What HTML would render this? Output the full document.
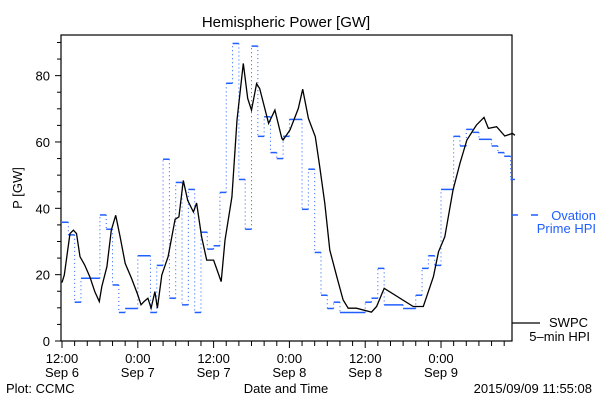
<!DOCTYPE html>
<html><head><meta charset="utf-8"><style>
body{margin:0;background:#fff;width:600px;height:400px;overflow:hidden}
svg text{font-family:"Liberation Sans",sans-serif;font-size:13px}
</style></head><body>
<svg id="chart" width="600" height="400" xmlns="http://www.w3.org/2000/svg">
<text x="286" y="27" text-anchor="middle" font-size="15" style="font-size:15px">Hemispheric Power [GW]</text>
<rect x="61" y="35" width="451" height="306" fill="none" stroke="#000" stroke-width="1.2"/>
<text transform="translate(22,188) rotate(-90)" text-anchor="middle">P [GW]</text>
<text x="286" y="393" text-anchor="middle">Date and Time</text>
<text x="6" y="393">Plot: CCMC</text>
<text x="592" y="393" text-anchor="end">2015/09/09 11:55:08</text>
<g id="axes"></g>
<g id="series"></g>
<g>
<line x1="512" y1="215" x2="518" y2="215" stroke="#1f5fff" stroke-width="1.5"/>
<line x1="531" y1="215" x2="538" y2="215" stroke="#1f5fff" stroke-width="1.5"/>
<text x="596" y="220" text-anchor="end" fill="#1f5fff">Ovation</text>
<text x="596" y="233" text-anchor="end" fill="#1f5fff">Prime HPI</text>
<line x1="512" y1="323" x2="540" y2="323" stroke="#000" stroke-width="1.2"/>
<text x="588" y="327" text-anchor="end">SWPC</text>
<text x="590" y="341" text-anchor="end">5–min HPI</text>
</g>
</svg>
<script>
const yTicks=[0,20,40,60,80];
const xTickHours=[0,12,24,36,48,60];
const xTickTimes=["12:00","0:00","12:00","0:00","12:00","0:00"];
const xTickDates=["Sep 6","Sep 7","Sep 7","Sep 8","Sep 8","Sep 9"];
const ovationStart=[0,1,2,3,6,7,8,9,10,12,14,15,16,17,18,19,20,21,22,23,24,25,26,27,28,29,30,31,32,33,34,35,36,38,39,40,41,42,43,44,48,49,50,51,54,56,57,58,59,60,62,63,64,65,66,68,69,70,71];
const ovationValues=[35.8,32,11.7,18.9,38,33.7,16.9,8.6,9.8,25.7,8.6,22.8,54.8,12.9,47.8,10.9,45.7,8.6,32.8,27.7,28.7,44.8,77.7,89.7,48.7,33.7,88.9,61.7,67.6,56.8,55,61.7,66.8,39.7,51.8,26.7,13.8,9.8,11.7,8.6,11.7,12.9,21.9,10.9,9.8,13.8,21.9,25.7,22.8,45.7,61.7,58.8,63.8,62.9,60.8,58.8,56.8,55.7,48.7];
const ovationEnd=71.7;
const swpcHours=[0,0.37,1.27,1.8,2.3,2.85,3.6,4.4,5.2,5.9,6.3,7.1,7.8,8.5,9.2,10,11,12,12.5,13,13.6,14.1,14.7,15.1,15.8,16.8,17.9,18.5,19.2,19.9,20.8,21.3,22.1,22.9,24,25.2,25.8,26.9,27.7,28.7,29.4,30,30.8,31.3,32.7,33.7,34.8,35,36.1,37.4,38.1,39,40.1,40.8,41.6,42.4,43.5,44.5,45.3,46.6,49,49.8,51,55.6,57.2,58.8,59.6,60.6,61.9,63,64.1,65.6,66.8,67.5,68.8,70.1,71.3,71.7];
const swpcValues=[17.6,19.9,32.4,33.4,32.4,25.4,22.9,19.4,14.9,11.9,16.4,22.4,33.4,37.9,31.4,23.4,18.9,13.9,10.9,11.9,12.9,9.9,14.9,9.9,19.9,25.4,36.7,37.4,48.4,42.4,38.9,41.6,31.4,24.4,24.4,17.9,30.4,43.4,66.6,83.7,73.1,69.6,77.6,76.1,65.6,69.6,61.1,60.6,63.6,70.1,75.9,67.1,61.6,52.6,41.5,27.4,19.4,12.4,9.9,9.9,8.7,10.4,15.9,10.4,10.4,19.4,26.9,31.4,45.5,53.6,60.6,65.1,67.4,64.1,64.6,61.8,62.6,62];
const NS="http://www.w3.org/2000/svg";
function X(h){return 62+h*6.317;}
function Y(v){return 341-v*3.317;}
function mk(tag,at,parent){const e=document.createElementNS(NS,tag);for(const k in at)e.setAttribute(k,at[k]);parent.appendChild(e);return e;}
const axes=document.getElementById('axes');
for(let v=0;v<=90;v+=5){
 const major=v%20===0;
 const t=mk('line',{x1:major?55:57,x2:61,y1:Y(v),y2:Y(v),stroke:'#000'},axes);
 
 
}
yTicks.forEach(v=>{
 const t=mk('text',{x:50,y:Y(v)+5,'text-anchor':'end'},axes);t.textContent=v;
 
 
});
for(let h=0;h<=70;h+=2){
 const major=h%12===0;
 const t=mk('line',{x1:X(h),x2:X(h),y1:341,y2:major?348:346,stroke:'#000'},axes);
 
 
}
xTickHours.forEach((h,i)=>{
 const a=mk('text',{x:X(h),y:363,'text-anchor':'middle'},axes);a.textContent=xTickTimes[i];
 
 
 const b=mk('text',{x:X(h),y:377,'text-anchor':'middle'},axes);b.textContent=xTickDates[i];
 
 
});
const ser=document.getElementById('series');
// Ovation step: solid horizontals, dotted verticals
ovationStart.forEach((h,i)=>{
 const he=i+1<ovationStart.length?ovationStart[i+1]:ovationEnd;
 const l=mk('line',{x1:X(h),x2:X(he),y1:Y(ovationValues[i]),y2:Y(ovationValues[i]),stroke:'#1f5fff','stroke-width':1.5},ser);
 
 
 if(i+1<ovationStart.length){
  const d=mk('line',{x1:X(he),x2:X(he),y1:Y(ovationValues[i]),y2:Y(ovationValues[i+1]),stroke:'#1f5fff','stroke-width':1,'stroke-dasharray':'1,3'},ser);
  
  
 }
});
const pts=swpcHours.map((h,i)=>X(h).toFixed(1)+','+Y(swpcValues[i]).toFixed(1)).join(' ');
const pl=mk('polyline',{points:pts,fill:'none',stroke:'#000','stroke-width':1.3},ser);


</script>
</body></html>
